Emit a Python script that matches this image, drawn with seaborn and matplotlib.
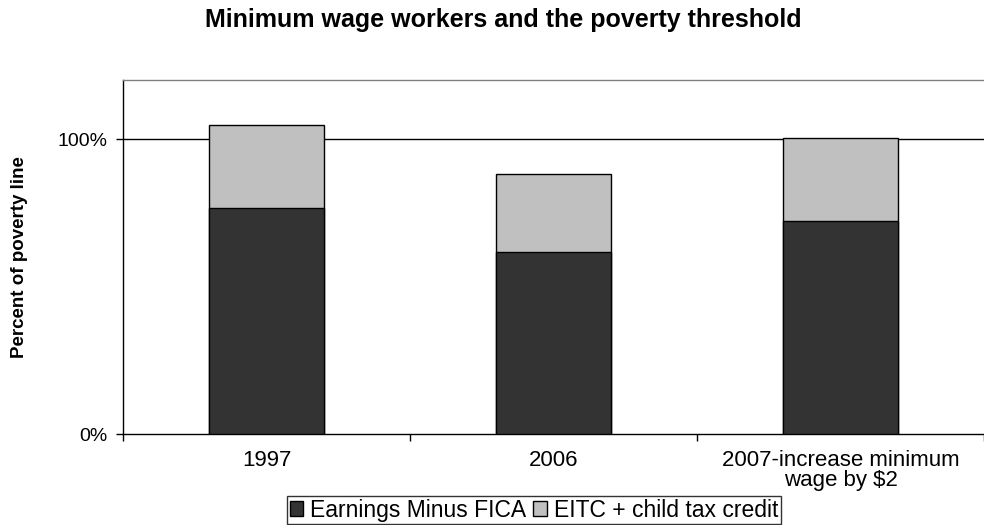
import matplotlib
matplotlib.use("Agg")
import matplotlib.pyplot as plt
import seaborn as sns
import pandas as pd
from matplotlib.patches import Patch
from matplotlib.ticker import FixedLocator

categories = ["1997", "2006", "2007-increase minimum\nwage by $2"]
earnings = [76.6, 61.9, 72.1]
credits = [28.2, 26.3, 28.4]
series_names = ["Earnings Minus FICA", "EITC + child tax credit"]
y_ticks = [0, 100]
y_tick_labels = ["0%", "100%"]

sns.set_theme(style="white")
plt.rcParams["font.family"] = ["Liberation Sans", "DejaVu Sans"]
plt.rcParams["text.color"] = "black"
plt.rcParams["xtick.color"] = "black"
plt.rcParams["ytick.color"] = "black"
plt.rcParams["axes.labelcolor"] = "black"

totals = [e + c for e, c in zip(earnings, credits)]
df = pd.DataFrame({"cat": categories, "earn": earnings, "total": totals})

W, H = 984, 525
fig = plt.figure(figsize=(W / 100, H / 100), dpi=100)
ax = fig.add_axes([123 / W, 1 - 434.3 / H, (984 - 123) / W, (434.3 - 80) / H])

dark = "#333333"
light = "#C0C0C0"

sns.barplot(data=df, x="cat", y="total", color=light, width=0.4, ax=ax,
            edgecolor="black", linewidth=1, saturation=1, zorder=3)
sns.barplot(data=df, x="cat", y="earn", color=dark, width=0.4, ax=ax,
            edgecolor="black", linewidth=1, saturation=1, zorder=4)

ax.set_xlim(-0.5, 2.5)
ax.set_ylim(0, 120)
ax.set_yticks(y_ticks)
ax.set_yticklabels(y_tick_labels, fontsize=14, color="black")
ax.axhline(100, color="black", linewidth=1, zorder=2)

ax.set_xticks(range(len(categories)))
ax.set_xticklabels(categories, fontsize=16, linespacing=0.95, color="black")
ax.xaxis.set_minor_locator(FixedLocator([-0.5, 0.5, 1.5, 2.5]))
ax.tick_params(axis="x", which="major", length=0, pad=11)
ax.tick_params(axis="x", which="minor", length=5, width=1, color="black", direction="out", bottom=True)
ax.tick_params(axis="y", which="major", length=5, width=1, color="black", direction="out", left=True, pad=6)

ax.set_xlabel("")
ax.set_ylabel("")

for side in ["left", "bottom"]:
    ax.spines[side].set_color("black")
    ax.spines[side].set_linewidth(1)
ax.spines["top"].set_color("#808080")
ax.spines["top"].set_linewidth(1)
ax.spines["right"].set_visible(False)

fig.text(503 / W, 1 - 8 / H, "Minimum wage workers and the poverty threshold",
         ha="center", va="top", fontsize=18, fontweight="bold", color="black")
fig.text(20 / W, 1 - 257 / H, "Percent of poverty line", rotation=90,
         ha="center", va="center", fontsize=13.5, fontweight="bold", color="black")

handles = [Patch(facecolor=dark, edgecolor="black", linewidth=1),
           Patch(facecolor=light, edgecolor="black", linewidth=1)]
leg = fig.legend(handles, series_names, loc="lower center",
                 bbox_to_anchor=(534 / W, 1 / H), ncol=2, fontsize=16.5,
                 frameon=True, fancybox=False, edgecolor="black",
                 handlelength=0.6, handleheight=0.6, handletextpad=0.3,
                 columnspacing=0.3, borderpad=0.1, borderaxespad=0)
leg.get_frame().set_linewidth(1)
for t in leg.get_texts():
    t.set_color("black")

fig.savefig("out.png", dpi=100)
